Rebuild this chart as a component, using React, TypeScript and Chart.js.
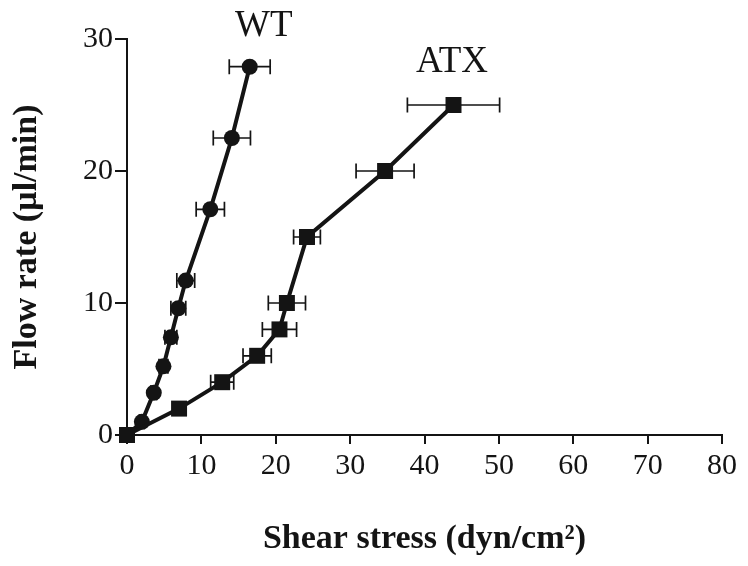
import React, { useEffect, useRef } from "react";
import { Chart, registerables } from "chart.js";

Chart.register(...registerables);

// WT series (circles)
const wtX = [0, 2.0, 3.6, 4.9, 5.9, 6.9, 7.9, 11.2, 14.1, 16.5];
const wtY = [0, 1.0, 3.2, 5.2, 7.4, 9.6, 11.7, 17.1, 22.5, 27.9];
const wtErr = [0, 0.3, 0.4, 0.6, 0.8, 1.0, 1.2, 1.9, 2.5, 2.75];

// ATX series (squares)
const atxX = [0, 7.0, 12.8, 17.5, 20.5, 21.5, 24.2, 34.7, 43.9];
const atxY = [0, 2, 4, 6, 8, 10, 15, 20, 25];
const atxErr = [0, 0.6, 1.55, 1.9, 2.3, 2.5, 1.8, 3.9, 6.2];

const seriesNames = ["WT", "ATX"];
const xTicks = [0, 10, 20, 30, 40, 50, 60, 70, 80];
const yTicks = [0, 10, 20, 30];

const INK = "#141414";

export default function App() {
  const ref = useRef<HTMLCanvasElement | null>(null);

  useEffect(() => {
    if (!ref.current) return;
    const toPts = (xs: number[], ys: number[], es: number[]) =>
      xs.map((x, i) => ({ x, y: ys[i], e: es[i] }));

    const errorBars = {
      id: "errorBars",
      beforeDatasetsDraw(chart: any) {
        const { ctx, scales } = chart;
        const xs = scales.x;
        const ys = scales.y;
        ctx.save();
        ctx.strokeStyle = INK;
        ctx.lineWidth = 1.7;
        chart.data.datasets.forEach((ds: any) => {
          ds.data.forEach((p: any) => {
            if (!p.e) return;
            const x1 = xs.getPixelForValue(p.x - p.e);
            const x2 = xs.getPixelForValue(p.x + p.e);
            const y = ys.getPixelForValue(p.y);
            ctx.beginPath();
            ctx.moveTo(x1, y);
            ctx.lineTo(x2, y);
            ctx.moveTo(x1, y - 7.5);
            ctx.lineTo(x1, y + 7.5);
            ctx.moveTo(x2, y - 7.5);
            ctx.lineTo(x2, y + 7.5);
            ctx.stroke();
          });
        });
        ctx.restore();
      },
    };

    const seriesLabels = {
      id: "seriesLabels",
      afterDraw(chart: any) {
        const { ctx, scales } = chart;
        ctx.save();
        ctx.fillStyle = INK;
        ctx.font = '37px "Liberation Serif"';
        ctx.textAlign = "center";
        ctx.textBaseline = "middle";
        ctx.fillText(seriesNames[0], scales.x.getPixelForValue(18.4), scales.y.getPixelForValue(31.0));
        ctx.fillText(seriesNames[1], scales.x.getPixelForValue(43.7), scales.y.getPixelForValue(28.2));
        ctx.restore();
      },
    };

    const chart = new Chart(ref.current, {
      type: "scatter",
      data: {
        datasets: [
          {
            label: seriesNames[1],
            data: toPts(atxX, atxY, atxErr),
            showLine: true,
            borderColor: INK,
            backgroundColor: INK,
            borderWidth: 4,
            pointStyle: "rect",
            pointRadius: 11.3,
            pointHoverRadius: 11.3,
            pointBorderWidth: 0,
            clip: false as any,
          },
          {
            label: seriesNames[0],
            data: toPts(wtX, wtY, wtErr),
            showLine: true,
            borderColor: INK,
            backgroundColor: INK,
            borderWidth: 4,
            pointStyle: "circle",
            pointRadius: 8,
            pointHoverRadius: 8,
            pointBorderWidth: 0,
            clip: false as any,
          },
        ],
      },
      options: {
        animation: false,
        responsive: false,
        layout: { padding: { left: 0, top: 39, right: 26, bottom: 0 } },
        plugins: {
          legend: { display: false },
          tooltip: { enabled: false },
        },
        scales: {
          x: {
            type: "linear",
            min: 0,
            max: 80,
            afterBuildTicks: (s: any) => {
              s.ticks = xTicks.map((v) => ({ value: v }));
            },
            afterFit: (s: any) => {
              s.height = 131;
            },
            ticks: {
              color: INK,
              font: { family: "Liberation Serif", size: 30 },
              padding: 4,
              maxRotation: 0,
              autoSkip: false,
            },
            grid: {
              display: true,
              drawOnChartArea: false,
              drawTicks: true,
              tickLength: 9,
              color: INK,
              lineWidth: 2,
            },
            border: { display: true, color: INK, width: 2 },
            title: {
              display: true,
              text: "Shear stress (dyn/cm²)",
              color: INK,
              font: { family: "Liberation Serif", size: 34, weight: "bold" },
              padding: { top: 0, bottom: 6 },
            },
          },
          y: {
            type: "linear",
            min: 0,
            max: 30,
            afterBuildTicks: (s: any) => {
              s.ticks = yTicks.map((v) => ({ value: v }));
            },
            afterFit: (s: any) => {
              s.width = 127;
            },
            ticks: {
              color: INK,
              font: { family: "Liberation Serif", size: 30 },
              padding: 2,
              autoSkip: false,
            },
            grid: {
              display: true,
              drawOnChartArea: false,
              drawTicks: true,
              tickLength: 12,
              color: INK,
              lineWidth: 2,
            },
            border: { display: true, color: INK, width: 2 },
            title: {
              display: true,
              text: "Flow rate (µl/min)",
              color: INK,
              font: { family: "Liberation Serif", size: 34, weight: "bold" },
              padding: { top: 7, bottom: 0 },
            },
          },
        },
      },
      plugins: [errorBars, seriesLabels],
    } as any);

    return () => chart.destroy();
  }, []);

  return (
    <div style={{ position: "fixed", left: 0, top: 0, width: 748, height: 566, background: "#fff" }}>
      <canvas ref={ref} width={748} height={566} />
    </div>
  );
}
